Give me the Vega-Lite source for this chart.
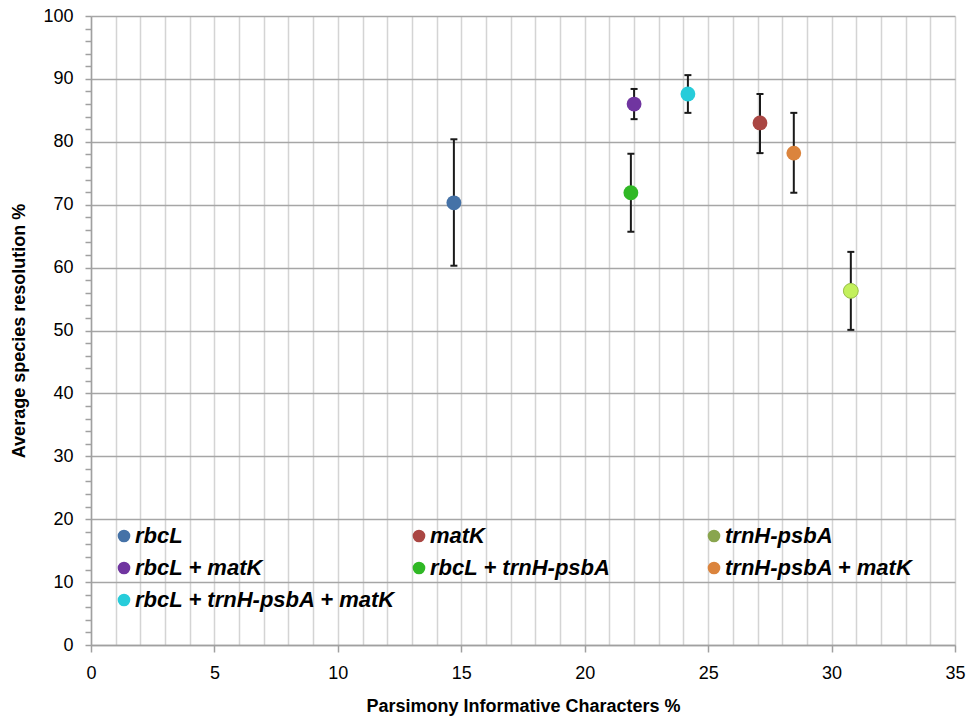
{
  "$schema": "https://vega.github.io/schema/vega-lite/v6.json",
  "autosize": "none",
  "width": 864,
  "height": 629,
  "padding": {"left": 91, "top": 16, "right": 11, "bottom": 77},
  "background": "white",
  "config": {
    "view": {"stroke": null},
    "font": "Liberation Sans"
  },
  "data": {
    "values": [
      {"marker": "rbcL", "pic": 14.7, "res": 70.3, "lo": 60.3, "hi": 80.4},
      {"marker": "matK", "pic": 27.1, "res": 83.0, "lo": 78.2, "hi": 87.6},
      {"marker": "trnH-psbA", "pic": 30.78, "res": 56.3, "lo": 50.1, "hi": 62.5},
      {"marker": "rbcL + matK", "pic": 22.0, "res": 86.0, "lo": 83.6, "hi": 88.4},
      {"marker": "rbcL + trnH-psbA", "pic": 21.87, "res": 71.9, "lo": 65.7, "hi": 78.1},
      {"marker": "trnH-psbA + matK", "pic": 28.47, "res": 78.2, "lo": 71.9, "hi": 84.6},
      {"marker": "rbcL + trnH-psbA + matK", "pic": 24.18, "res": 87.6, "lo": 84.6, "hi": 90.6}
    ]
  },
  "encoding": {
    "x": {
      "field": "pic",
      "type": "quantitative",
      "scale": {"domain": [0, 35], "nice": false, "zero": false},
      "axis": {
        "title": "Parsimony Informative Characters %",
        "values": [0,1,2,3,4,5,6,7,8,9,10,11,12,13,14,15,16,17,18,19,20,21,22,23,24,25,26,27,28,29,30,31,32,33,34,35],
        "tickCount": 100,
        "format": "d",
        "labelExpr": "datum.value % 5 === 0 ? datum.label : ''",
        "labelOverlap": false,
        "labelFlush": false,
        "labelFont": "Liberation Sans",
        "labelFontSize": 18,
        "labelColor": "#000000",
        "labelPadding": 12,
        "tickSize": 7,
        "tickColor": {"condition": {"test": "datum.value % 5 === 0", "value": "#a0a0a0"}, "value": "transparent"},
        "tickWidth": 1.5,
        "domainColor": "#a0a0a0",
        "domainWidth": 1.5,
        "grid": true,
        "gridColor": "#d4d4d4",
        "gridWidth": 1.5,
        "titleFont": "Liberation Sans",
        "titleFontSize": 18,
        "titleFontWeight": "bold",
        "titleColor": "#000000",
        "titlePadding": 15
      }
    }
  },
  "layer": [
    {
      "mark": {"type": "rule", "color": "#1a1a1a", "strokeWidth": 2},
      "encoding": {
        "y": {
          "field": "lo",
          "type": "quantitative",
          "scale": {"domain": [0, 100], "nice": false},
          "axis": {
            "title": "Average species resolution %",
            "values": [0,2,4,6,8,10,12,14,16,18,20,22,24,26,28,30,32,34,36,38,40,42,44,46,48,50,52,54,56,58,60,62,64,66,68,70,72,74,76,78,80,82,84,86,88,90,92,94,96,98,100],
            "tickCount": 100,
            "format": "d",
            "labelExpr": "datum.value % 10 === 0 ? datum.label : ''",
            "labelOverlap": false,
            "labelFlush": false,
            "labelFont": "Liberation Sans",
            "labelFontSize": 18,
            "labelColor": "#000000",
            "labelPadding": 12,
            "tickSize": 6,
            "tickColor": "#a0a0a0",
            "tickWidth": 1.5,
            "domainColor": "#a0a0a0",
            "domainWidth": 1.5,
            "grid": true,
            "gridColor": {"condition": {"test": "datum.value % 10 === 0", "value": "#a6a6a6"}, "value": "transparent"},
            "gridWidth": 1.5,
            "titleFont": "Liberation Sans",
            "titleFontSize": 18,
            "titleFontWeight": "bold",
            "titleColor": "#000000",
            "titlePadding": 14
          }
        },
        "y2": {"field": "hi"}
      }
    },
    {
      "mark": {"type": "tick", "orient": "horizontal", "color": "#1a1a1a", "size": 7, "thickness": 2, "opacity": 1},
      "encoding": {"y": {"field": "lo", "type": "quantitative"}}
    },
    {
      "mark": {"type": "tick", "orient": "horizontal", "color": "#1a1a1a", "size": 7, "thickness": 2, "opacity": 1},
      "encoding": {"y": {"field": "hi", "type": "quantitative"}}
    },
    {
      "mark": {"type": "point", "filled": true, "shape": "circle", "size": 220, "opacity": 1},
      "encoding": {
        "y": {"field": "res", "type": "quantitative"},
        "color": {
          "field": "marker",
          "type": "nominal",
          "scale": {
            "domain": ["rbcL", "rbcL + matK", "trnH-psbA + matK", "matK", "rbcL + trnH-psbA", "rbcL + trnH-psbA + matK", "trnH-psbA"],
            "range": ["#4572A7", "#7035A0", "#DB843D", "#AA4643", "#30B825", "#27CCDA", "#89A54E"]
          },
          "legend": {
            "title": null,
            "orient": "none",
            "legendX": 22,
            "legendY": 509,
            "columns": 3,
            "gridAlign": "all",
            "columnPadding": 12,
            "rowPadding": 10,
            "padding": 0,
            "symbolType": "circle",
            "symbolSize": 160,
            "symbolStrokeWidth": 0,
            "symbolOpacity": 1,
            "labelOffset": 0,
            "labelFont": "Liberation Sans",
            "labelFontSize": 22,
            "labelFontStyle": "italic",
            "labelFontWeight": "bold",
            "labelColor": "#000000",
            "labelLimit": 400
          }
        }
      }
    },
    {
      "transform": [{"filter": "datum.marker === 'trnH-psbA'"}],
      "mark": {"type": "point", "filled": true, "shape": "circle", "size": 220, "opacity": 1, "fill": "#C3F05C", "stroke": "#9CC24C", "strokeWidth": 1},
      "encoding": {"y": {"field": "res", "type": "quantitative"}}
    }
  ]
}
